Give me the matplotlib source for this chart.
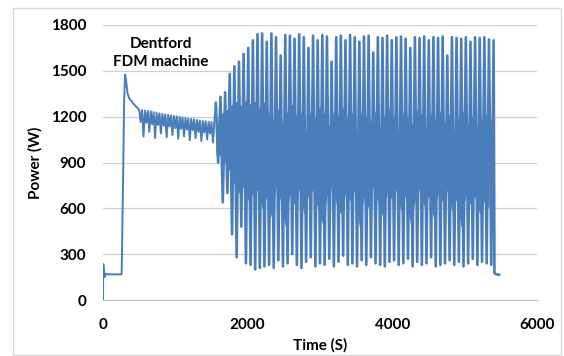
import numpy as np
import matplotlib
matplotlib.use("Agg")
import matplotlib.pyplot as plt
from matplotlib.patches import Rectangle

# start-up: idle, heat-up peak, settling
start_t = [0, 4, 14, 24, 38, 60, 250, 258, 275, 292, 306, 318, 340, 364, 420, 480]
start_v = [0, 235, 185, 150, 172, 168, 168, 172, 700, 1300, 1475, 1440, 1350, 1320, 1285, 1255]

# calm printing section, one reading every 20 s from 500 s
calm_t0, calm_dt = 500, 20
calm_v = [1245, 1165, 1243, 1070, 1240, 1160, 1238, 1100, 1235, 1150,
          1230, 1060, 1226, 1145, 1222, 1090, 1218, 1140, 1215, 1065,
          1212, 1135, 1208, 1080, 1205, 1125, 1202, 1055, 1198, 1120,
          1195, 1070, 1192, 1115, 1188, 1045, 1185, 1110, 1182, 1060,
          1178, 1100, 1175, 1040, 1172, 1095, 1170, 1050, 1167, 1090,
          1165, 1030, 1170]

# spiky section: one peak + one trough per 64 s cycle from 1560 s
spike_t0, spike_dt = 1560, 64
peak_v = [1290, 1330, 1360, 1480, 1530, 1560, 1610, 1650, 1700,
          1740, 1745, 1690, 1745, 1720, 1600, 1735, 1730, 1710, 1740,
          1720, 1650, 1730, 1700, 1735, 1725, 1560, 1720, 1730, 1700,
          1735, 1720, 1690, 1725, 1730, 1620, 1720, 1715, 1730, 1700,
          1720, 1725, 1710, 1650, 1720, 1715, 1725, 1700, 1720, 1715,
          1725, 1600, 1720, 1715, 1710, 1720, 1690, 1720, 1715, 1720, 1705]
trough_v = [900, 640, 700, 430, 280, 480, 240, 230, 200,
            210, 220, 230, 210, 260, 220, 240, 300, 230, 210,
            250, 280, 220, 240, 230, 270, 220, 250, 290, 230,
            240, 220, 260, 230, 280, 240, 230, 220, 250, 260,
            230, 240, 270, 220, 250, 230, 240, 280, 220, 230,
            240, 260, 230, 250, 220, 240, 270, 230, 250, 240, 230]

# edges of the dense middle band, per cycle (top edge between peaks,
# bottom edge between troughs)
band_top = [1200, 1230, 1250, 1280, 1300, 1270, 1310, 1280, 1300,
            1250, 1300, 1220, 1180, 1260, 1150, 1240, 1280, 1200, 1230,
            1100, 1250, 1190, 1270, 1220, 1140, 1240, 1210, 1260, 1180,
            1230, 1090, 1250, 1200, 1170, 1240, 1130, 1220, 1260, 1190,
            1080, 1230, 1200, 1150, 1250, 1210, 1120, 1230, 1180, 1240,
            1160, 1220, 1100, 1200, 1240, 1150, 1210, 1130, 1190, 1220, 1180]
band_bot = [1080, 980, 900, 840, 760, 700, 740, 650, 700,
            720, 600, 680, 540, 740, 650, 480, 700, 620, 730,
            560, 690, 720, 600, 500, 680, 740, 630, 560, 700,
            650, 720, 470, 680, 600, 740, 640, 550, 700, 660,
            720, 580, 690, 500, 650, 730, 610, 680, 540, 700,
            640, 720, 580, 660, 470, 700, 620, 680, 560, 650, 600]

# end of job
end_t = [5400, 5412, 5440, 5475]
end_v = [1700, 175, 168, 165]

blue = "#4a7ebb"
font = "Lato"

fig = plt.figure(figsize=(5.64, 3.56), dpi=100)
fig.patches.append(Rectangle((13 / 564, 1 / 356), 548 / 564, 347 / 356,
                             transform=fig.transFigure, fill=False,
                             edgecolor="#d9d9d9", lw=1.0))
ax = fig.add_axes([103 / 564, 56 / 356, 434 / 564, 275 / 356])

calm_t = calm_t0 + calm_dt * np.arange(len(calm_v))
ck = np.arange(len(peak_v))
peak_t = spike_t0 + spike_dt * ck
trough_t = peak_t + spike_dt / 2
spk_t = np.empty(2 * len(peak_v))
spk_t[0::2] = peak_t
spk_t[1::2] = trough_t
spk_v = np.empty(2 * len(peak_v))
spk_v[0::2] = peak_v
spk_v[1::2] = trough_v

mid = 950
ax.fill_between(trough_t, mid, band_top, color=blue, lw=0)
ax.fill_between(peak_t, band_bot, mid, color=blue, lw=0)
ax.plot(np.concatenate([start_t, calm_t, [spike_t0]]),
        np.concatenate([start_v, calm_v, [peak_v[0]]]), color=blue, lw=1.4)
ax.plot(np.concatenate([spk_t, end_t]), np.concatenate([spk_v, end_v]),
        color=blue, lw=1.9)

ax.set_xlim(0, 6000)
ax.set_ylim(0, 1800)
ax.set_xticks([0, 2000, 4000, 6000])
ax.set_yticks(range(0, 1801, 300))
ax.yaxis.grid(True, color="#d0d0d0", lw=0.9)
ax.set_axisbelow(True)
for s in ["top", "right", "left"]:
    ax.spines[s].set_visible(False)
ax.spines["bottom"].set_color("#c0c0c0")
ax.tick_params(length=0, labelsize=11)
ax.tick_params(axis="y", pad=12)
ax.tick_params(axis="x", pad=13)
for lab in ax.get_xticklabels() + ax.get_yticklabels():
    lab.set_fontfamily(font)
    lab.set_fontweight("bold")

ax.set_xlabel("Time (S)", fontsize=11, fontweight="bold", family=font, labelpad=4)
ax.set_ylabel("Power (W)", fontsize=11, fontweight="bold", family=font, labelpad=6)
ax.text(800, 1615, "Dentford\nFDM machine", ha="center", va="center",
        fontsize=11, fontweight="bold", family=font, linespacing=1.35)

fig.savefig("out.png", dpi=100)
